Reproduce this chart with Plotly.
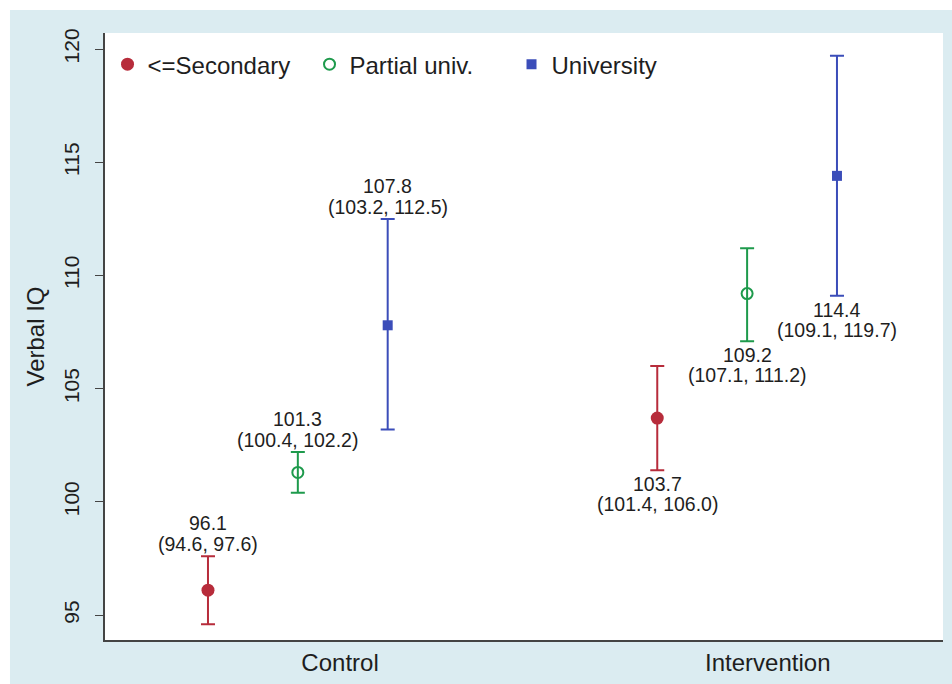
import plotly.graph_objects as go

# ---- data ----
groups = ["Control", "Intervention"]
series_names = ["<=Secondary", "Partial univ.", "University"]
sec_mean = [96.1, 103.7]
sec_low = [94.6, 101.4]
sec_high = [97.6, 106.0]
part_mean = [101.3, 109.2]
part_low = [100.4, 107.1]
part_high = [102.2, 111.2]
univ_mean = [107.8, 114.4]
univ_low = [103.2, 109.1]
univ_high = [112.5, 119.7]
y_ticks = [95, 100, 105, 110, 115, 120]

# x slot positions (group offset + series offset)
group_base = [0, 5]
series_offset = [1, 2, 3]
group_label_pos = [2.47, 7.23]

colors = ["#b72c3b", "#1e9a4c", "#3b4db9"]
symbols = ["circle", "circle-open", "square"]
sizes = [13, 11, 10]

means = [sec_mean, part_mean, univ_mean]
lows = [sec_low, part_low, univ_low]
highs = [sec_high, part_high, univ_high]

fig = go.Figure()
FONT = "Liberation Sans, Arial, Helvetica, sans-serif"
TXT = "#1e1e1e"
afont = dict(size=19.5, color=TXT, family=FONT)

for i, name in enumerate(series_names):
    xs = [g + series_offset[i] for g in group_base]
    m, lo, hi = means[i], lows[i], highs[i]
    fig.add_trace(go.Scatter(
        x=xs, y=m, mode="markers", name=name,
        marker=dict(color=colors[i], symbol=symbols[i], size=sizes[i],
                    line=dict(color=colors[i], width=2 if symbols[i] == "circle-open" else 0)),
        error_y=dict(type="data", symmetric=False,
                     array=[h - v for h, v in zip(hi, m)],
                     arrayminus=[v - l for v, l in zip(m, lo)],
                     color=colors[i], thickness=2, width=7),
    ))
    for j in range(len(groups)):
        val = f"{m[j]:.1f}"
        ci = f"({lo[j]:.1f}, {hi[j]:.1f})"
        if j == 0:
            fig.add_annotation(x=xs[j], y=hi[j], text=ci, showarrow=False,
                               yanchor="middle", yshift=12, font=afont)
            fig.add_annotation(x=xs[j], y=hi[j], text=val, showarrow=False,
                               yanchor="middle", yshift=33, font=afont)
        else:
            fig.add_annotation(x=xs[j], y=lo[j], text=val, showarrow=False,
                               yanchor="middle", yshift=-14, font=afont)
            fig.add_annotation(x=xs[j], y=lo[j], text=ci, showarrow=False,
                               yanchor="middle", yshift=-34, font=afont)

# background frame
fig.add_shape(type="rect", xref="paper", yref="paper",
              x0=-0.1134, x1=1.02, y0=-0.08, y1=1.0379,
              fillcolor="#dbecf1", line=dict(width=0), layer="below")
fig.add_shape(type="rect", xref="paper", yref="paper",
              x0=0, x1=1, y0=0, y1=1,
              fillcolor="white", line=dict(width=0), layer="below")

fig.update_layout(
    width=952, height=684,
    margin=dict(l=105, r=9, t=33, b=44),
    paper_bgcolor="white", plot_bgcolor="rgba(0,0,0,0)",
    font=dict(family=FONT, color=TXT),
    showlegend=True,
    legend=dict(orientation="h", x=0.003, y=0.985, xanchor="left", yanchor="top",
                font=dict(size=24, family=FONT, color=TXT),
                entrywidth=157, entrywidthmode="pixels",
                bgcolor="rgba(0,0,0,0)"),
    xaxis=dict(range=[-0.146, 9.18], tickvals=group_label_pos, ticktext=groups,
               showgrid=False, zeroline=False, showline=True, linecolor="#444",
               linewidth=1.5, ticks="", tickfont=dict(size=24, family=FONT, color=TXT)),
    yaxis=dict(range=[93.9, 120.71], tickvals=y_ticks, showgrid=False, zeroline=False,
               showline=True, linecolor="#444", linewidth=1.5, ticks="outside",
               ticklen=8, tickcolor="#444", tickangle=-90, ticklabelstandoff=8,
               tickfont=dict(size=21, family=FONT, color=TXT),
               title=dict(text="Verbal IQ", font=dict(size=24, family=FONT, color=TXT),
                          standoff=8)),
)

fig.write_html("out.html", config={"displayModeBar": False},
               post_script="document.body.style.margin='0';document.body.style.overflow='hidden';")
